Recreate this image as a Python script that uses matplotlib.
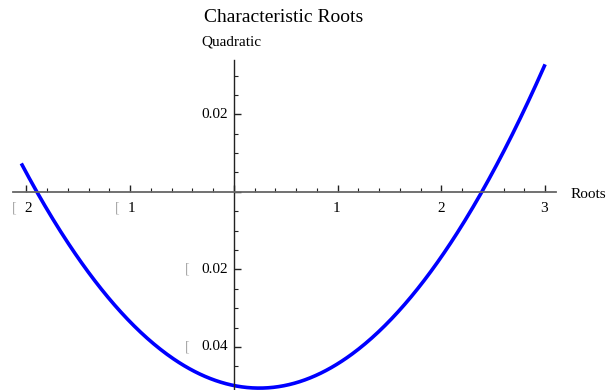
import numpy as np
import matplotlib
matplotlib.use("Agg")
import matplotlib.pyplot as plt
from matplotlib.ticker import MultipleLocator, NullFormatter

# Data: quadratic (roots ~ -1.9 and 2.39, minimum ~ -0.0506)
coef_a = 0.0110
coef_b = -0.00539
coef_c = -0.04995
x_start, x_end = -2.05, 3.0
x_ticks = [-2, -1, 1, 2, 3]
y_ticks = [0.02, -0.02, -0.04]
title = "Characteristic Roots"
x_label = "Roots"
y_label = "Quadratic"

serif = "Liberation Serif"
fig = plt.figure(figsize=(6.06, 3.90), dpi=100)
W, H = 606, 390
ax = fig.add_axes([13 / W, 0, (556 - 13) / W, (390 - 60) / H])
ax.set_xlim(-2.13, 3.105)
ax.set_ylim(-0.0511, 0.034)

xs = np.linspace(x_start, x_end, 400)
ys = coef_a * xs**2 + coef_b * xs + coef_c
ax.plot(xs, ys, color="#0000ff", lw=2.6, solid_capstyle="butt", clip_on=False)

for s in ["top", "right"]:
    ax.spines[s].set_visible(False)
ax.spines["left"].set_position(("data", 0))
ax.spines["bottom"].set_position(("data", 0))
ax.spines["bottom"].set_color("#666666")
ax.spines["left"].set_color("#222222")
ax.spines["bottom"].set_linewidth(1.3)
ax.spines["left"].set_linewidth(1.0)

ax.xaxis.set_major_locator(MultipleLocator(1))
ax.xaxis.set_minor_locator(MultipleLocator(0.2))
ax.yaxis.set_major_locator(MultipleLocator(0.02))
ax.yaxis.set_minor_locator(MultipleLocator(0.005))
ax.xaxis.set_major_formatter(NullFormatter())
ax.yaxis.set_major_formatter(NullFormatter())
ax.tick_params(axis="x", which="major", direction="in", length=5, width=1, color="#222222")
ax.tick_params(axis="x", which="minor", direction="in", length=3, width=0.8, color="#222222")
ax.tick_params(axis="y", which="major", direction="in", length=5, width=1, color="#222222")
ax.tick_params(axis="y", which="minor", direction="in", length=3, width=0.8, color="#222222")
ax.tick_params(axis="x", which="both", top=False)
ax.tick_params(axis="y", which="both", right=False)

fs = 11
for v in x_ticks:
    ax.annotate(str(abs(v)), (v, 0), xytext=(1 if v < 0 else -0.5, -7), textcoords="offset points",
                ha="center", va="top", fontsize=fs, family=serif, color="black")
    if v < 0:
        ax.annotate("[", (v, 0), xytext=(-9, -7), textcoords="offset points",
                    ha="center", va="top", fontsize=fs - 1, family=serif, color="#aaaaaa")
for v in y_ticks:
    ax.annotate(f"{abs(v):.2f}", (0, v), xytext=(-4, 0), textcoords="offset points",
                ha="right", va="center", fontsize=fs, family=serif, color="black")
    if v < 0:
        ax.annotate("[", (0, v), xytext=(-32, 0), textcoords="offset points",
                    ha="right", va="center", fontsize=fs - 1, family=serif, color="#aaaaaa")

fig.text(284 / W, 1 - 18 / H, title, ha="center", va="center", fontsize=14, family=serif)
fig.text(201 / W, 1 - 42 / H, y_label, ha="left", va="center", fontsize=11, family=serif)
fig.text(571 / W, 1 - 195 / H, x_label, ha="left", va="center", fontsize=11, family=serif)

fig.savefig("out.png", dpi=100)
